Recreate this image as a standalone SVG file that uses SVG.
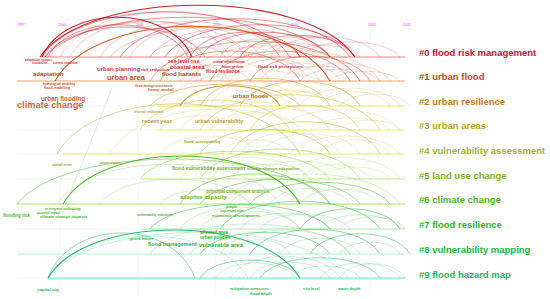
<svg xmlns="http://www.w3.org/2000/svg" width="550" height="299" viewBox="0 0 550 299">
<style>
text{font-family:"Liberation Sans",Arial,sans-serif;font-weight:bold}
.yr{fill:#ff33ff;font-size:3.5px;font-weight:normal}
.lab{font-size:9.5px}
.grid{stroke:#ececec;stroke-width:0.4}
.tl{stroke-width:1.1;fill:none}
.base{stroke:#f2f2f2;stroke-width:0.8}
#connectors path{fill:none}
.a0{stroke:#c8141e}.a1{stroke:#c8501e}.a2{stroke:#c8961e}.a3{stroke:#c8be1e}.a4{stroke:#aab41e}
.a5{stroke:#82c81e}.a6{stroke:#46b41e}.a7{stroke:#1eb432}.a8{stroke:#1eb446}.a9{stroke:#1eb464}
.s{stroke-width:0.45;stroke-opacity:0.5}.m{stroke-width:0.7;stroke-opacity:0.7}.t{stroke-width:1.1;stroke-opacity:0.95}
</style>
<rect width="550" height="299" fill="#ffffff"/>
<g id="grid">
<line class="grid" x1="60" y1="30" x2="60" y2="295"/>
<line class="grid" x1="138" y1="30" x2="138" y2="295"/>
<line class="grid" x1="215" y1="30" x2="215" y2="295"/>
<line class="grid" x1="293" y1="30" x2="293" y2="295"/>
<line class="grid" x1="370" y1="30" x2="370" y2="295"/>
<line class="base" x1="17" y1="57" x2="405" y2="57"/>
<line class="base" x1="17" y1="81" x2="405" y2="81"/>
<line class="base" x1="17" y1="106" x2="405" y2="106"/>
<line class="base" x1="17" y1="130" x2="405" y2="130"/>
<line class="base" x1="17" y1="154" x2="405" y2="154"/>
<line class="base" x1="17" y1="179" x2="405" y2="179"/>
<line class="base" x1="17" y1="204" x2="405" y2="204"/>
<line class="base" x1="17" y1="229" x2="405" y2="229"/>
<line class="base" x1="17" y1="254" x2="405" y2="254"/>
<line class="base" x1="17" y1="278" x2="405" y2="278"/>
<text class="yr" x="17" y="26">1997</text>
<text class="yr" x="58" y="26">2000</text>
<text class="yr" x="136" y="26">2005</text>
<text class="yr" x="213" y="26">2010</text>
<text class="yr" x="291" y="26">2015</text>
<text class="yr" x="368" y="26">2020</text>
<text class="yr" x="403" y="26">2022</text>
</g>
<g id="timelines">
<line class="tl" stroke="#f28a8a" x1="40" y1="57" x2="405" y2="57"/>
<line class="tl" stroke="#f5a870" x1="17" y1="81" x2="405" y2="81"/>
<line class="tl" stroke="#f5e650" x1="157" y1="106" x2="405" y2="106"/>
<line class="tl" stroke="#f5f050" x1="157" y1="130" x2="405" y2="130"/>
<line class="tl" stroke="#ecf05a" x1="63" y1="154" x2="405" y2="154"/>
<line class="tl" stroke="#c8f08c" x1="142" y1="179" x2="405" y2="179"/>
<line class="tl" stroke="#a8ec64" x1="17" y1="204" x2="405" y2="204"/>
<line class="tl" stroke="#b4f0b4" x1="142" y1="229" x2="405" y2="229"/>
<line class="tl" stroke="#bcf0d2" x1="17" y1="254" x2="405" y2="254"/>
<line class="tl" stroke="#64f0b4" x1="48" y1="278" x2="405" y2="278"/>
</g>
<g id="connectors">
<path class="a0 t" d="M40 57 C87 -12 308 -12 355 57"/>
<path class="a0 m" d="M42 57 C79 -3 253 -3 290 57"/>
<path class="a0 m" d="M45 57 C88 4 287 4 330 57"/>
<path class="a0 s" d="M50 57 C80 10 220 10 250 57"/>
<path class="a0 m" d="M45 57 C69 17 181 17 205 57"/>
<path class="a0 s" d="M100 57 C127 10 253 10 280 57"/>
<path class="a0 m" d="M120 57 C155 6 315 6 350 57"/>
<path class="a0 s" d="M150 57 C173 20 277 20 300 57"/>
<path class="a0 m" d="M165 57 C194 14 326 14 355 57"/>
<path class="a0 s" d="M175 57 C186 30 234 30 245 57"/>
<path class="a0 m" d="M200 57 C220 24 310 24 330 57"/>
<path class="a0 s" d="M220 57 C232 33 288 33 300 57"/>
<path class="a0 m" d="M240 57 C257 28 338 28 355 57"/>
<path class="a0 s" d="M260 57 C271 38 319 38 330 57"/>
<path class="a0 s" d="M290 57 C300 41 345 41 355 57"/>
<path class="a0 s" d="M180 57 C187 44 218 44 225 57"/>
<path class="a0 s" d="M150 57 C158 41 192 41 200 57"/>
<path class="a0 t" d="M42 57 C65 4 169 4 192 57"/>
<path class="a0 m" d="M48 57 C69 14 167 14 188 57"/>
<path class="a0 s" d="M60 57 C93 -4 247 -4 280 57"/>
<path class="a0 s" d="M230 57 C244 38 306 38 320 57"/>
<path class="a0 s" d="M70 57 C94 9 206 9 230 57"/>
<path class="a0 s" d="M110 57 C143 17 297 17 330 57"/>
<path class="a0 s" d="M300 57 C315 37 385 37 400 57"/>
<path class="a0 s" d="M270 57 C287 30 363 30 380 57"/>
<path class="a0 s" d="M130 57 C150 17 240 17 260 57"/>
<path class="a0 m" d="M190 57 C207 24 283 24 300 57"/>
<path class="a0 s" d="M250 57 C267 30 343 30 360 57"/>
<path class="a1 t" d="M55 81 C96 8 289 8 330 81"/>
<path class="a1 m" d="M150 81 C182 28 328 28 360 81"/>
<path class="a1 m" d="M160 81 C181 41 279 41 300 81"/>
<path class="a1 s" d="M190 81 C202 54 258 54 270 81"/>
<path class="a1 m" d="M210 81 C231 41 329 41 350 81"/>
<path class="a1 s" d="M230 81 C244 52 306 52 320 81"/>
<path class="a1 m" d="M250 81 C268 48 352 48 370 81"/>
<path class="a1 s" d="M280 81 C292 61 348 61 360 81"/>
<path class="a1 s" d="M140 81 C154 57 216 57 230 81"/>
<path class="a1 s" d="M300 81 C312 65 368 65 380 81"/>
<path class="a1 s" d="M330 81 C341 68 389 68 400 81"/>
<path class="a1 s" d="M180 81 C207 34 333 34 360 81"/>
<path class="a1 s" d="M170 81 C182 60 238 60 250 81"/>
<path class="a1 s" d="M260 81 C272 57 328 57 340 81"/>
<path class="a1 s" d="M200 81 C217 48 293 48 310 81"/>
<path class="a1 s" d="M290 81 C305 57 375 57 390 81"/>
<path class="a1 s" d="M220 81 C244 41 356 41 380 81"/>
<path class="a2 m" d="M150 106 C173 77 277 77 300 106"/>
<path class="a2 s" d="M160 106 C190 59 330 59 360 106"/>
<path class="a2 m" d="M200 106 C220 69 310 69 330 106"/>
<path class="a2 s" d="M220 106 C231 86 279 86 290 106"/>
<path class="a2 m" d="M240 106 C258 73 342 73 360 106"/>
<path class="a2 s" d="M270 106 C281 87 329 87 340 106"/>
<path class="a2 s" d="M300 106 C315 82 385 82 400 106"/>
<path class="a2 s" d="M340 106 C351 90 399 90 410 106"/>
<path class="a2 t" d="M180 106 C195 79 265 79 280 106"/>
<path class="a2 s" d="M210 106 C224 74 286 74 300 106"/>
<path class="a2 s" d="M250 106 C262 85 318 85 330 106"/>
<path class="a2 s" d="M320 106 C331 87 379 87 390 106"/>
<path class="a3 m" d="M140 130 C163 90 267 90 290 130"/>
<path class="a3 m" d="M200 130 C227 83 353 83 380 130"/>
<path class="a3 s" d="M230 130 C245 101 315 101 330 130"/>
<path class="a3 m" d="M250 130 C267 97 343 97 360 130"/>
<path class="a3 s" d="M280 130 C298 103 382 103 400 130"/>
<path class="a3 s" d="M160 130 C172 111 228 111 240 130"/>
<path class="a3 s" d="M310 130 C322 114 378 114 390 130"/>
<path class="a3 s" d="M180 130 C203 93 307 93 330 130"/>
<path class="a3 s" d="M210 130 C224 106 286 106 300 130"/>
<path class="a3 s" d="M340 130 C349 117 391 117 400 130"/>
<path class="a4 m" d="M57 154 C93 87 264 87 300 154"/>
<path class="a4 s" d="M110 154 C143 94 297 94 330 154"/>
<path class="a4 m" d="M200 154 C220 121 310 121 330 154"/>
<path class="a4 m" d="M230 154 C253 111 357 111 380 154"/>
<path class="a4 s" d="M260 154 C275 127 345 127 360 154"/>
<path class="a4 s" d="M290 154 C307 130 383 130 400 154"/>
<path class="a4 s" d="M160 154 C175 130 245 130 260 154"/>
<path class="a4 s" d="M220 154 C231 135 279 135 290 154"/>
<path class="a4 s" d="M240 154 C255 125 325 125 340 154"/>
<path class="a4 s" d="M320 154 C331 135 379 135 390 154"/>
<path class="a5 m" d="M140 179 C169 142 301 142 330 179"/>
<path class="a5 s" d="M180 179 C200 150 290 150 310 179"/>
<path class="a5 m" d="M200 179 C224 139 336 139 360 179"/>
<path class="a5 s" d="M250 179 C265 155 335 155 350 179"/>
<path class="a5 s" d="M280 179 C298 150 382 150 400 179"/>
<path class="a5 s" d="M320 179 C331 163 379 163 390 179"/>
<path class="a5 s" d="M230 179 C242 159 298 159 310 179"/>
<path class="a5 s" d="M210 179 C222 158 278 158 290 179"/>
<path class="a5 s" d="M300 179 C311 160 359 160 370 179"/>
<path class="a6 m" d="M17 204 C64 144 283 144 330 204"/>
<path class="a6 s" d="M57 204 C90 151 247 151 280 204"/>
<path class="a6 t" d="M63 204 C99 140 264 140 300 204"/>
<path class="a6 s" d="M100 204 C123 171 227 171 250 204"/>
<path class="a6 m" d="M180 204 C203 164 307 164 330 204"/>
<path class="a6 m" d="M200 204 C224 171 336 171 360 204"/>
<path class="a6 s" d="M230 204 C241 184 289 184 300 204"/>
<path class="a6 m" d="M250 204 C271 175 369 175 390 204"/>
<path class="a6 s" d="M300 204 C312 184 368 184 380 204"/>
<path class="a6 s" d="M160 204 C174 185 236 185 250 204"/>
<path class="a6 s" d="M270 204 C282 183 338 183 350 204"/>
<path class="a6 s" d="M220 204 C247 164 373 164 400 204"/>
<path class="a7 m" d="M150 229 C177 196 303 196 330 229"/>
<path class="a7 s" d="M200 229 C215 205 285 205 300 229"/>
<path class="a7 m" d="M220 229 C244 192 356 192 380 229"/>
<path class="a7 s" d="M260 229 C274 209 336 209 350 229"/>
<path class="a7 m" d="M300 229 C315 202 385 202 400 229"/>
<path class="a7 s" d="M180 229 C198 200 282 200 300 229"/>
<path class="a7 s" d="M320 229 C332 210 388 210 400 229"/>
<path class="a7 s" d="M240 229 C254 208 316 208 330 229"/>
<path class="a7 s" d="M340 229 C350 213 395 213 405 229"/>
<path class="a8 m" d="M200 254 C220 225 310 225 330 254"/>
<path class="a8 s" d="M230 254 C239 235 281 235 290 254"/>
<path class="a8 m" d="M250 254 C270 221 360 221 380 254"/>
<path class="a8 s" d="M280 254 C292 233 348 233 360 254"/>
<path class="a8 m" d="M310 254 C325 227 395 227 410 254"/>
<path class="a8 s" d="M190 254 C202 234 258 234 270 254"/>
<path class="a8 s" d="M150 254 C180 214 320 214 350 254"/>
<path class="a8 s" d="M220 254 C240 222 330 222 350 254"/>
<path class="a8 s" d="M340 254 C349 238 391 238 400 254"/>
<path class="a9 m" d="M48 278 C70 218 173 218 195 278"/>
<path class="a9 s" d="M48 278 C78 222 218 222 248 278"/>
<path class="a9 t" d="M48 278 C86 214 262 214 300 278"/>
<path class="a9 s" d="M48 278 C93 217 303 217 348 278"/>
<path class="a9 m" d="M200 278 C215 254 285 254 300 278"/>
<path class="a9 s" d="M230 278 C247 249 323 249 340 278"/>
<path class="a9 m" d="M260 278 C278 251 362 251 380 278"/>
<path class="a9 s" d="M290 278 C301 262 349 262 360 278"/>
<path class="a9 s" d="M320 278 C332 258 388 258 400 278"/>
<path class="a9 s" d="M215 278 C227 258 283 258 295 278"/>
<path class="a9 s" d="M250 278 C262 257 318 257 330 278"/>
<path class="a9 s" d="M340 278 C350 259 395 259 405 278"/>
<path d="M65 205 Q88 150 112 88" stroke="#c8c8c8" stroke-width="0.5"/>
</g>
<g id="cluster-0" fill="#c83232">
<text x="25" y="60.5" font-size="3">adaptation options</text>
<text x="32" y="63.5" font-size="3">inundation</text>
<text x="53" y="63.5" font-size="3">current condition</text>
<text x="33" y="75.5" font-size="6">adaptation</text>
<text x="97" y="70.5" font-size="6" fill="#b44646">urban planning</text>
<text x="141" y="71" font-size="4.3">risk reduction</text>
<text x="168" y="63" font-size="5">sea-level rise</text>
<text x="170" y="68.5" font-size="6">coastal area</text>
<text x="162" y="75.5" font-size="6">flood hazards</text>
<text x="206" y="73" font-size="4.6">flood resilience</text>
<text x="213" y="63" font-size="3.2">critical infrastructure</text>
<text x="222" y="68" font-size="3.2">future periods</text>
<text x="258" y="68" font-size="4.3">flood risk perceptions</text>
<text class="lab" x="419" y="55.5" fill="#c8102e">#0 flood risk management</text>
</g>
<g id="cluster-1" fill="#c85028">
<text x="107" y="80" font-size="7.4">urban area</text>
<text x="43" y="84.5" font-size="3">hydrological modeling</text>
<text x="44" y="89" font-size="3.5">flood modelling</text>
<text x="135" y="86.5" font-size="3">flood damage assessment</text>
<text x="148" y="91" font-size="4">heavy rainfall</text>
<text x="41" y="100.5" font-size="6.3" fill="#c8642d">urban flooding</text>
<text x="17" y="108" font-size="9.2" fill="#d2643c">climate change</text>
<text class="lab" x="419" y="80" fill="#c4461a">#1 urban flood</text>
</g>
<g id="cluster-2" fill="#b8641e">
<text x="233" y="98" font-size="5.8">urban floods</text>
<text class="lab" x="419" y="105" fill="#c0782a">#2 urban resilience</text>
</g>
<g id="cluster-3" fill="#b4a032">
<text x="134" y="112.5" font-size="3">informal settlements</text>
<text x="142" y="123" font-size="5.6">recent year</text>
<text x="195" y="123" font-size="5.4">urban vulnerability</text>
<text class="lab" x="419" y="129" fill="#b8a028">#3 urban areas</text>
</g>
<g id="cluster-4" fill="#a0a028">
<text x="184" y="143" font-size="4">flood susceptibility</text>
<text x="52" y="166" font-size="3.2">rainfall event</text>
<text x="100" y="164" font-size="3.2">urban regions</text>
<text class="lab" x="419" y="154" fill="#a0b41e">#4 vulnerability assessment</text>
</g>
<g id="cluster-5" fill="#78b428">
<text x="172" y="170" font-size="5">flood vulnerability assessment</text>
<text x="247" y="170" font-size="4.2">climate change adaptation</text>
<text x="206" y="193" font-size="4.5">principal component analysis</text>
<text x="180" y="198.5" font-size="5.6" fill="#6eb428">adaptive capacity</text>
<text class="lab" x="419" y="179" fill="#78b41e">#5 land use change</text>
</g>
<g id="cluster-6" fill="#50b428">
<text x="3" y="216.5" font-size="4.5">flooding risk</text>
<text x="45" y="210" font-size="2.8">an integrated methodology</text>
<text x="37" y="213.5" font-size="3">potential impact</text>
<text x="40" y="218" font-size="4.2">climate change impacts</text>
<text x="137" y="216" font-size="3.3">vulnerability indicators</text>
<text x="226" y="208" font-size="3.5">people</text>
<text x="220" y="212" font-size="3.5">important role</text>
<text x="212" y="217" font-size="4.3">economic development</text>
<text class="lab" x="419" y="203" fill="#50b41e">#6 climate change</text>
</g>
<g id="cluster-7" fill="#28b432">
<text x="130" y="239.5" font-size="3">general features</text>
<text x="200" y="233.5" font-size="4.5">affected area</text>
<text x="200" y="238.5" font-size="4.5">urban policies</text>
<text x="148" y="246" font-size="5.5">flood management</text>
<text x="199" y="246.5" font-size="6">vulnerable area</text>
<text class="lab" x="419" y="228" fill="#28b428">#7 flood resilience</text>
</g>
<g id="cluster-8" fill="#28b446">
<text class="lab" x="419" y="253" fill="#1eb43c">#8 vulnerability mapping</text>
</g>
<g id="cluster-9" fill="#28b45a">
<text x="37" y="291" font-size="4.3">capital city</text>
<text x="230" y="290" font-size="4">mitigation measures</text>
<text x="250" y="294.5" font-size="4">flood depth</text>
<text x="303" y="290" font-size="4">city level</text>
<text x="338" y="290" font-size="4">water depth</text>
<text class="lab" x="419" y="278" fill="#1eb45a">#9 flood hazard map</text>
</g>
</svg>
